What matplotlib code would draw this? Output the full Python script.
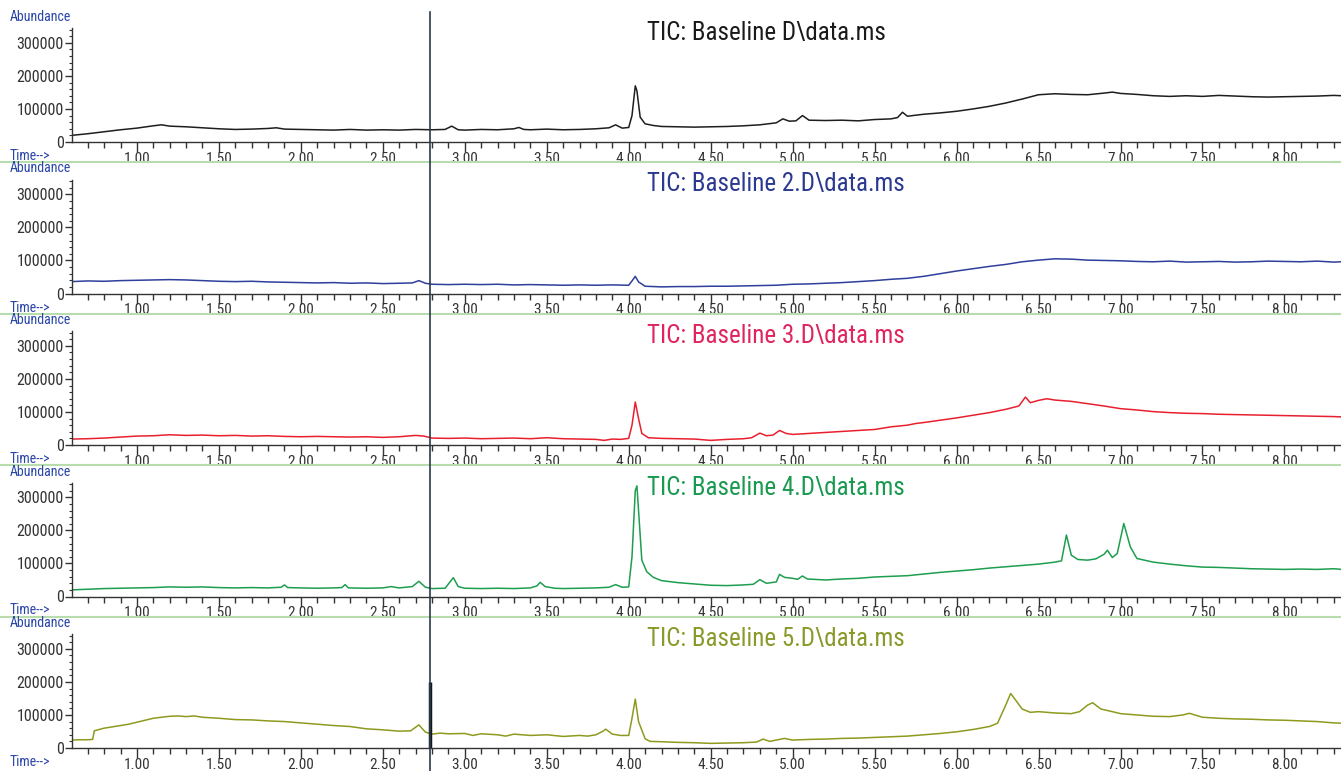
"""Five stacked TIC baseline chromatograms (abundance vs retention time)."""

import numpy as np
import matplotlib
matplotlib.use('Agg')
import matplotlib.pyplot as plt
from matplotlib.ticker import MultipleLocator, FormatStrFormatter
from matplotlib.lines import Line2D
from matplotlib import font_manager
import matplotlib.transforms as mtransforms

# pick a narrow face if one is installed, else Liberation Sans
installed = {f.name for f in font_manager.fontManager.ttflist}
narrow = [f for f in ['Roboto Condensed', 'Liberation Sans Narrow', 'Open Sans Condensed']
          if f in installed]
plt.rcParams['font.family'] = narrow + ['Liberation Sans', 'DejaVu Sans']

# ---- data (abundance in thousands) ----
titles = ['TIC: Baseline D\\data.ms', 'TIC: Baseline 2.D\\data.ms', 'TIC: Baseline 3.D\\data.ms',
          'TIC: Baseline 4.D\\data.ms', 'TIC: Baseline 5.D\\data.ms']

t1 = [0.60, 0.70, 0.80, 0.90, 1.00, 1.10, 1.15, 1.20, 1.30, 1.40, 1.50, 1.60, 1.70, 1.80, 1.85, 1.90,
      2.00, 2.10, 2.20, 2.30, 2.40, 2.50, 2.60, 2.70, 2.80, 2.88, 2.92, 2.96, 3.00, 3.10, 3.20, 3.30,
      3.33, 3.36, 3.40, 3.50, 3.60, 3.70, 3.80, 3.88, 3.92, 3.96, 4.00, 4.02, 4.04, 4.05, 4.07, 4.10,
      4.15, 4.20, 4.30, 4.40, 4.50, 4.60, 4.70, 4.80, 4.90, 4.94, 4.98, 5.02, 5.06, 5.10, 5.20, 5.30,
      5.40, 5.50, 5.60, 5.64, 5.67, 5.70, 5.80, 5.90, 6.00, 6.10, 6.20, 6.30, 6.40, 6.50, 6.60, 6.70,
      6.80, 6.90, 6.95, 7.00, 7.10, 7.20, 7.30, 7.40, 7.50, 7.60, 7.70, 7.80, 7.90, 8.00, 8.10, 8.20,
      8.30, 8.35]
v1 = [20, 25, 31, 37, 42, 49, 52, 48, 46, 43, 40, 38, 39, 41, 43, 39,
      38, 37, 36, 38, 36, 37, 36, 38, 37, 38, 48, 37, 36, 38, 37, 40,
      44, 38, 37, 39, 37, 38, 40, 43, 52, 42, 44, 80, 170, 155, 75, 55,
      50, 47, 46, 45, 46, 47, 49, 52, 58, 70, 63, 64, 80, 66, 65, 66,
      64, 68, 70, 74, 90, 78, 84, 88, 93, 100, 108, 118, 130, 143, 146, 144,
      143, 148, 151, 147, 144, 140, 138, 140, 138, 141, 139, 137, 136, 137, 138, 139,
      141, 140]

t2 = [0.60, 0.70, 0.80, 0.90, 1.00, 1.10, 1.20, 1.30, 1.40, 1.50, 1.60, 1.70, 1.80, 1.90, 2.00, 2.10,
      2.20, 2.30, 2.40, 2.50, 2.60, 2.68, 2.72, 2.76, 2.80, 2.90, 3.00, 3.10, 3.20, 3.30, 3.40, 3.50,
      3.60, 3.70, 3.80, 3.90, 4.00, 4.02, 4.04, 4.06, 4.10, 4.20, 4.30, 4.40, 4.50, 4.60, 4.70, 4.80,
      4.90, 5.00, 5.10, 5.20, 5.30, 5.40, 5.50, 5.60, 5.70, 5.80, 5.90, 6.00, 6.10, 6.20, 6.30, 6.40,
      6.50, 6.60, 6.70, 6.80, 6.90, 7.00, 7.10, 7.20, 7.30, 7.40, 7.50, 7.60, 7.70, 7.80, 7.90, 8.00,
      8.10, 8.20, 8.30, 8.35]
v2 = [36, 38, 37, 39, 40, 41, 42, 41, 39, 37, 36, 37, 35, 34, 33, 32,
      33, 31, 32, 30, 31, 32, 39, 31, 28, 27, 28, 27, 28, 26, 27, 26,
      25, 26, 25, 26, 25, 38, 52, 35, 22, 20, 21, 21, 22, 22, 23, 24,
      25, 28, 29, 31, 33, 36, 39, 43, 46, 52, 60, 68, 75, 82, 88, 96,
      101, 105, 104, 101, 100, 99, 97, 96, 98, 95, 96, 97, 95, 96, 98, 97,
      96, 98, 95, 96]

t3 = [0.60, 0.70, 0.80, 0.90, 1.00, 1.10, 1.20, 1.30, 1.40, 1.50, 1.60, 1.70, 1.80, 1.90, 2.00, 2.10,
      2.20, 2.30, 2.40, 2.50, 2.60, 2.70, 2.75, 2.80, 2.90, 3.00, 3.10, 3.20, 3.30, 3.40, 3.50, 3.60,
      3.70, 3.80, 3.85, 3.90, 3.95, 4.00, 4.02, 4.04, 4.06, 4.08, 4.12, 4.20, 4.30, 4.40, 4.50, 4.60,
      4.70, 4.75, 4.80, 4.84, 4.88, 4.92, 4.96, 5.00, 5.10, 5.20, 5.30, 5.40, 5.50, 5.60, 5.70, 5.75,
      5.80, 5.90, 6.00, 6.10, 6.20, 6.30, 6.38, 6.42, 6.45, 6.50, 6.55, 6.60, 6.70, 6.80, 6.90, 7.00,
      7.10, 7.20, 7.30, 7.40, 7.50, 7.60, 7.70, 7.80, 7.90, 8.00, 8.10, 8.20, 8.30, 8.35]
v3 = [18, 19, 21, 24, 27, 28, 31, 29, 30, 28, 29, 27, 28, 26, 25, 26,
      25, 24, 25, 23, 25, 29, 27, 21, 20, 21, 19, 20, 21, 19, 22, 19,
      18, 17, 14, 18, 17, 20, 60, 130, 80, 35, 22, 20, 19, 18, 14, 17,
      19, 22, 36, 28, 30, 44, 35, 32, 35, 38, 41, 44, 47, 55, 60, 65,
      68, 75, 82, 90, 98, 108, 118, 145, 128, 135, 140, 136, 132, 125, 118, 110,
      106, 101, 98, 96, 95, 93, 92, 91, 90, 89, 88, 87, 86, 85]

t4 = [0.60, 0.70, 0.80, 0.90, 1.00, 1.10, 1.20, 1.30, 1.40, 1.50, 1.60, 1.70, 1.80, 1.88, 1.90, 1.92,
      2.00, 2.10, 2.20, 2.25, 2.27, 2.29, 2.40, 2.50, 2.55, 2.60, 2.68, 2.72, 2.76, 2.80, 2.88, 2.93,
      2.96, 3.00, 3.10, 3.20, 3.30, 3.40, 3.44, 3.46, 3.49, 3.55, 3.60, 3.70, 3.80, 3.88, 3.92, 3.96,
      4.00, 4.02, 4.04, 4.05, 4.06, 4.08, 4.11, 4.15, 4.20, 4.30, 4.40, 4.50, 4.60, 4.70, 4.76, 4.80,
      4.84, 4.90, 4.92, 4.95, 5.00, 5.03, 5.06, 5.09, 5.20, 5.30, 5.40, 5.50, 5.60, 5.70, 5.80, 5.90,
      6.00, 6.10, 6.20, 6.30, 6.40, 6.50, 6.60, 6.64, 6.67, 6.70, 6.74, 6.80, 6.85, 6.90, 6.92, 6.95,
      6.98, 7.02, 7.06, 7.10, 7.20, 7.30, 7.40, 7.50, 7.60, 7.70, 7.80, 7.90, 8.00, 8.10, 8.20, 8.30,
      8.35]
v4 = [20, 22, 24, 25, 26, 27, 29, 28, 29, 27, 26, 27, 26, 28, 35, 27,
      26, 25, 26, 27, 36, 26, 25, 26, 30, 26, 30, 46, 28, 24, 25, 57,
      30, 25, 24, 25, 24, 26, 32, 43, 30, 25, 24, 25, 26, 28, 36, 28,
      29, 120, 320, 335, 260, 110, 75, 58, 48, 42, 38, 34, 33, 35, 37, 51,
      40, 44, 67, 58, 55, 52, 62, 53, 50, 53, 55, 59, 61, 63, 68, 73,
      77, 81, 86, 90, 94, 98, 104, 108, 186, 125, 112, 110, 114, 128, 140, 118,
      130, 221, 150, 115, 104, 98, 93, 89, 88, 86, 84, 83, 82, 83, 82, 84,
      82]

t5 = [0.60, 0.65, 0.70, 0.73, 0.74, 0.80, 0.85, 0.90, 0.95, 1.00, 1.05, 1.10, 1.15, 1.20, 1.25, 1.30,
      1.35, 1.40, 1.50, 1.60, 1.70, 1.80, 1.90, 2.00, 2.10, 2.20, 2.30, 2.40, 2.50, 2.60, 2.67, 2.72,
      2.76, 2.80, 2.85, 2.90, 3.00, 3.05, 3.10, 3.20, 3.25, 3.30, 3.40, 3.50, 3.60, 3.70, 3.75, 3.80,
      3.84, 3.86, 3.90, 3.95, 4.00, 4.02, 4.04, 4.06, 4.08, 4.10, 4.13, 4.20, 4.30, 4.40, 4.50, 4.60,
      4.70, 4.78, 4.82, 4.86, 4.95, 5.00, 5.10, 5.20, 5.30, 5.40, 5.50, 5.60, 5.70, 5.80, 5.90, 6.00,
      6.10, 6.20, 6.25, 6.30, 6.33, 6.36, 6.40, 6.45, 6.50, 6.55, 6.60, 6.70, 6.75, 6.80, 6.83, 6.88,
      6.95, 7.00, 7.10, 7.20, 7.30, 7.38, 7.42, 7.50, 7.60, 7.70, 7.80, 7.90, 8.00, 8.10, 8.20, 8.30,
      8.35]
v5 = [24, 25, 25, 26, 52, 60, 64, 68, 72, 78, 84, 90, 93, 96, 97, 95,
      97, 93, 90, 86, 85, 82, 80, 76, 72, 68, 65, 58, 55, 51, 52, 70,
      48, 42, 45, 43, 44, 38, 43, 40, 36, 42, 38, 40, 35, 38, 36, 40,
      50, 57, 42, 38, 38, 90, 148, 80, 54, 28, 20, 19, 17, 16, 14, 15,
      16, 18, 27, 20, 29, 24, 26, 27, 29, 30, 32, 34, 36, 40, 44, 49,
      56, 65, 75, 130, 165, 145, 118, 108, 110, 108, 106, 104, 110, 130, 137, 118,
      110, 104, 100, 96, 95, 100, 105, 93, 90, 88, 87, 85, 84, 82, 80, 76,
      75]

times = [t1, t2, t3, t4, t5]
values = [v1, v2, v3, v4, v5]

line_colors = ['#1e1e1e', '#2e3f9c', '#e8202e', '#1e9e4f', '#8e9a1e']
title_colors = ['#1a1a1a', '#2b3990', '#e0245e', '#1a9a50', '#8a9a2a']
cursor_t = 2.79

W, H = 1341, 771
fig = plt.figure(figsize=(W / 100, H / 100), dpi=100)

label_blue = '#2a45a8'
tick_col = '#333333'
axes = []
for i in range(5):
    zero_px = 142 + i * 151.5
    ax = fig.add_axes([72 / W, 1 - zero_px / H, (W - 72) / W, 114 / H])
    ax.plot(times[i], np.array(values[i]) * 1000, color=line_colors[i], lw=1.1)
    ax.set_xlim(0.604, 8.345)
    ax.set_ylim(0, 345000)
    for s in ['top', 'right']:
        ax.spines[s].set_visible(False)
    for s in ['left', 'bottom']:
        ax.spines[s].set_color(tick_col)
        ax.spines[s].set_linewidth(1.0)
    ax.xaxis.set_major_locator(MultipleLocator(0.5))
    ax.xaxis.set_minor_locator(MultipleLocator(0.1))
    ax.xaxis.set_major_formatter(FormatStrFormatter('%.2f'))
    ax.yaxis.set_major_locator(MultipleLocator(100000))
    ax.yaxis.set_minor_locator(MultipleLocator(20000))
    ax.tick_params(axis='x', which='major', length=7, width=1, colors=tick_col,
                   labelsize=11, pad=0)
    ax.tick_params(axis='x', which='minor', length=4, width=1, colors=tick_col)
    ax.tick_params(axis='y', which='major', length=5, width=1, colors=tick_col,
                   labelsize=11.5, pad=1)
    ax.tick_params(axis='y', which='minor', length=2, width=0.8, colors=tick_col)
    ax.patch.set_alpha(0)

    fig.text(10 / W, 1 - (zero_px - 125) / H, 'Abundance', color=label_blue,
             fontsize=10, ha='left', va='center')
    fig.text(10 / W, 1 - (zero_px + 14) / H, 'Time-->', color=label_blue,
             fontsize=10, ha='left', va='center')
    fig.text(647 / W, 1 - (zero_px - 109) / H, titles[i], color=title_colors[i],
             fontsize=18, ha='left', va='center')
    if i < 4:
        yy = 1 - (zero_px + 20) / H
        fig.add_artist(Line2D([0, 1], [yy, yy], transform=fig.transFigure,
                              color='#b8dcae', lw=1.5))
    axes.append(ax)

# cursor line through all panels
trans = mtransforms.blended_transform_factory(axes[0].transData, fig.transFigure)
fig.add_artist(Line2D([cursor_t, cursor_t], [0, 1 - 12 / H], transform=trans,
                      color='#2b3a4a', lw=1.2))
axes[4].plot([cursor_t, cursor_t], [0, 200000], color='#101820', lw=2.5,
             solid_capstyle='butt')

fig.savefig('out.png', dpi=100)
